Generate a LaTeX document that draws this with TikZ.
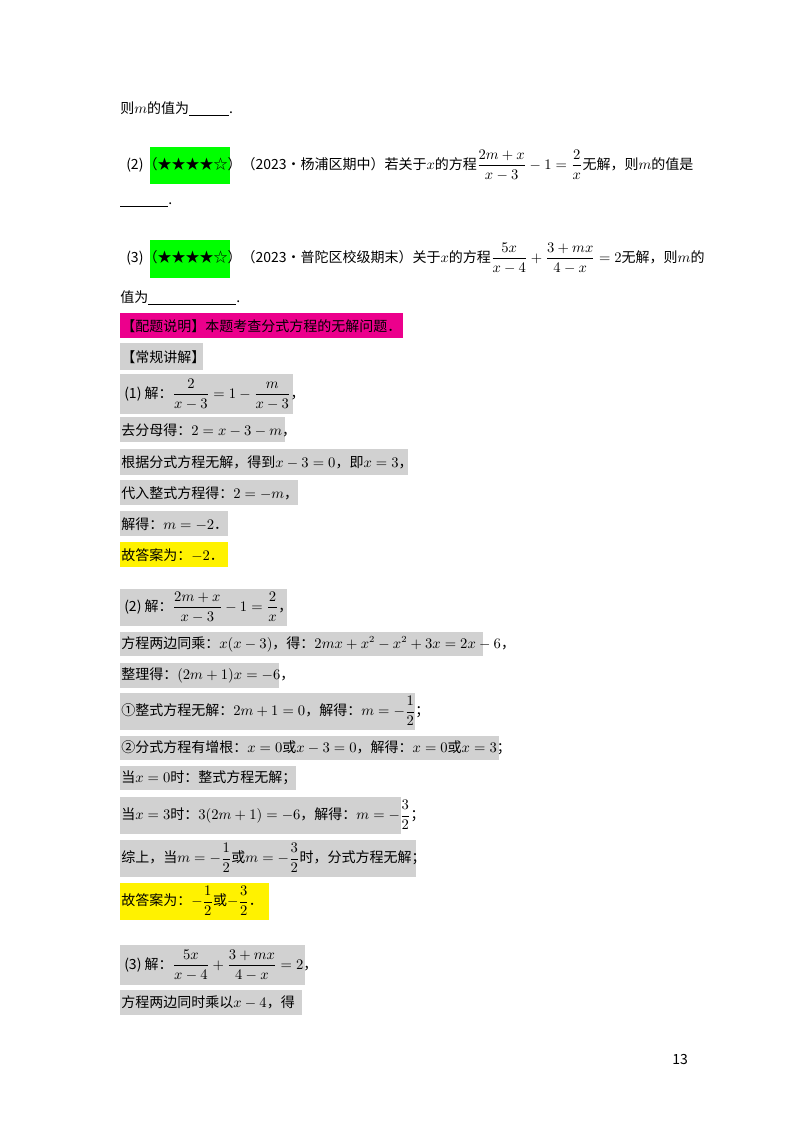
\documentclass[tikz,border=0pt]{standalone}
\usepackage{amsmath}
\usepackage{fontspec}
\setmainfont{Noto Sans CJK SC}
\begin{document}
\begin{tikzpicture}[x=0.75pt,y=-0.75pt,
  t/.style={anchor=west,inner sep=0,font=\fontsize{10.5}{12}\selectfont},
  gb/.style={fill=black!18}, yb/.style={fill=yellow}, mb/.style={fill=magenta}, grn/.style={fill=green}]
\useasboundingbox (0,0) rectangle (800,1132);
\fill[white] (0,0) rectangle (800,1132);
% highlights
\fill[grn] (150,147) rectangle (230,184);
\fill[grn] (150,240) rectangle (230,278);
\fill[mb] (120,313) rectangle (403,338);
\fill[gb] (120,343) rectangle (203,370);
\fill[gb] (120,374) rectangle (293,414);
\fill[gb] (120,417) rectangle (285,442);
\fill[gb] (120,449) rectangle (408,475);
\fill[gb] (120,480) rectangle (298,505);
\fill[gb] (120,511) rectangle (228,536);
\fill[yb] (120,542) rectangle (228,567);
\fill[gb] (120,589) rectangle (287,626);
\fill[gb] (120,632) rectangle (483,656);
\fill[gb] (120,663) rectangle (279,688);
\fill[gb] (120,693) rectangle (415,730);
\fill[gb] (120,736) rectangle (499,760);
\fill[gb] (120,766) rectangle (296,790);
\fill[gb] (120,797) rectangle (401,834);
\fill[gb] (120,840) rectangle (416,877);
\fill[yb] (120,883) rectangle (269,920);
\fill[gb] (120,945) rectangle (305,985);
\fill[gb] (120,990) rectangle (302,1015);
% texts
\node[t] (a1) at (120,109) {则$m$的值为\underline{\hspace{30pt}}.};
\node[t] (a2) at (126,165) {(2)（★★★★☆）（2023•杨浦区期中）若关于$x$的方程$\dfrac{2m+x}{x-3}-1=\dfrac{2}{x}$无解，则$m$的值是};
\node[t] (a3) at (120,205) {\underline{\hspace{36pt}}.};
\node[t] (a4) at (126,258) {(3)（★★★★☆）（2023•普陀区校级期末）关于$x$的方程$\dfrac{5x}{x-4}+\dfrac{3+mx}{4-x}=2$无解，则$m$的};
\node[t] (a5) at (120,298) {值为\underline{\hspace{66pt}}.};
\node[t] (b1) at (121,326) {【配题说明】本题考查分式方程的无解问题．};
\node[t] (b2) at (121,357) {【常规讲解】};
\node[t] (b3) at (124,394) {(1) 解：$\dfrac{2}{x-3}=1-\dfrac{m}{x-3}$，};
\node[t] (b4) at (121,430) {去分母得：$2=x-3-m$，};
\node[t] (b5) at (121,462) {根据分式方程无解，得到$x-3=0$，即$x=3$，};
\node[t] (b6) at (121,493) {代入整式方程得：$2=-m$，};
\node[t] (b7) at (121,524) {解得：$m=-2$．};
\node[t] (b8) at (121,555) {故答案为：$-2$．};
\node[t] (c1) at (124,607) {(2) 解：$\dfrac{2m+x}{x-3}-1=\dfrac{2}{x}$，};
\node[t] (c2) at (121,644) {方程两边同乘：$x(x-3)$，得：$2mx+x^2-x^2+3x=2x-6$，};
\node[t] (c3) at (121,675) {整理得：$(2m+1)x=-6$，};
\node[t] (c4) at (121,711) {①整式方程无解：$2m+1=0$，解得：$m=-\dfrac{1}{2}$；};
\node[t] (c5) at (121,748) {②分式方程有增根：$x=0$或$x-3=0$，解得：$x=0$或$x=3$；};
\node[t] (c6) at (121,778) {当$x=0$时：整式方程无解；};
\node[t] (c7) at (121,815) {当$x=3$时：$3(2m+1)=-6$，解得：$m=-\dfrac{3}{2}$；};
\node[t] (c8) at (121,858) {综上，当$m=-\dfrac{1}{2}$或$m=-\dfrac{3}{2}$时，分式方程无解；};
\node[t] (c9) at (121,901) {故答案为：$-\dfrac{1}{2}$或$-\dfrac{3}{2}$．};
\node[t] (d1) at (124,965) {(3) 解：$\dfrac{5x}{x-4}+\dfrac{3+mx}{4-x}=2$，};
\node[t] (d2) at (121,1002) {方程两边同时乘以$x-4$，得};
\node[t] (pg) at (672,1059) {13};
\end{tikzpicture}
\end{document}
